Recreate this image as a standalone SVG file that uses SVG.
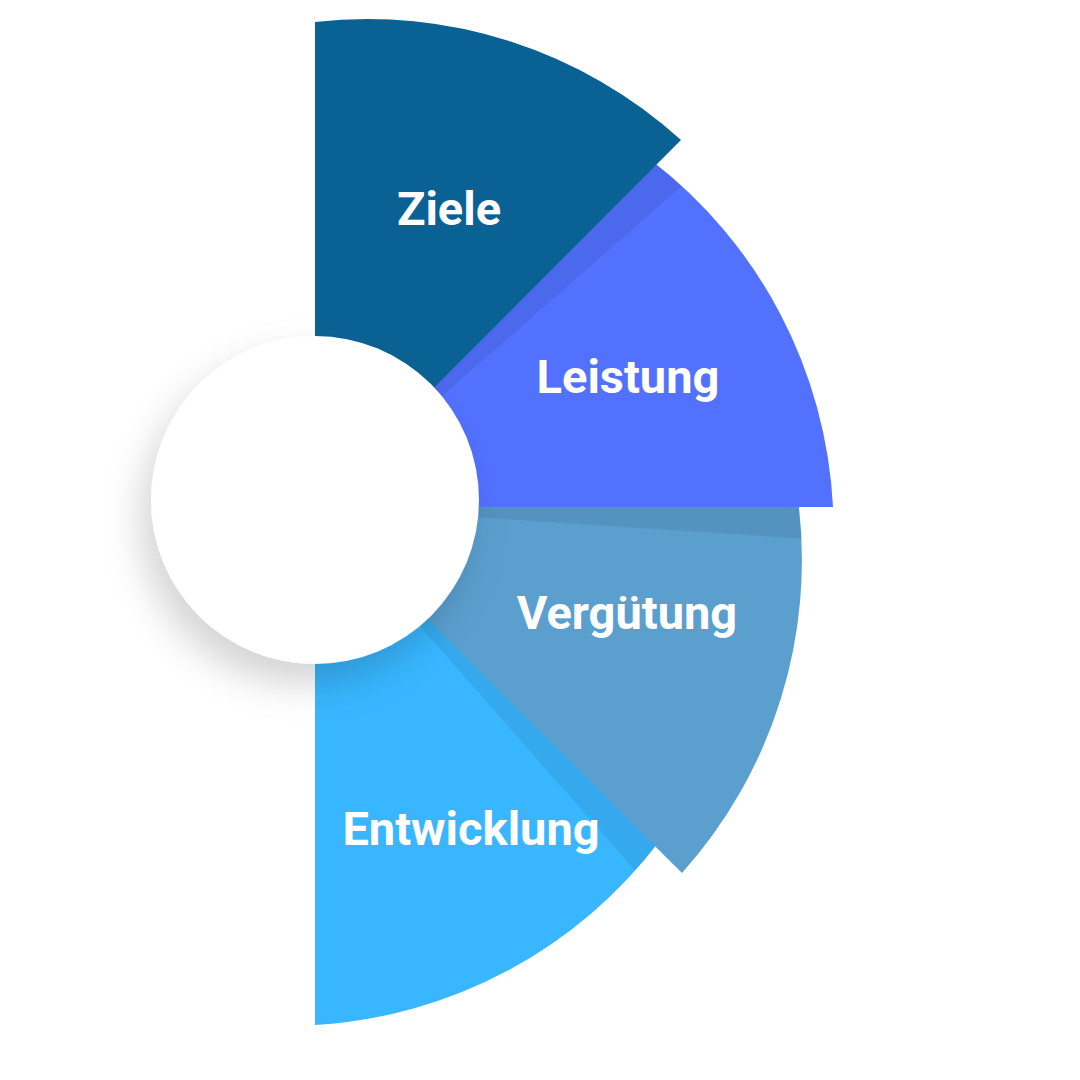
<svg xmlns="http://www.w3.org/2000/svg" width="1080" height="1080" viewBox="0 0 1080 1080">
<defs>
<style>
.lbl{font-family:Roboto,"Liberation Sans",sans-serif;font-weight:700;font-size:47px;fill:#ffffff;text-anchor:middle}
.sh{fill:#000000;fill-opacity:0.07}
</style>
<path id="pZ" d="M315,507 L315,22 A467,467 0 0 1 681,140 Z"/>
<path id="pL" d="M315,507 L650.4,159.7 A467,467 0 0 1 833,507 Z"/>
<path id="pV" d="M315,507 L797.9,498.6 A469,469 0 0 1 682,873 Z"/>
<path id="pE" d="M315,507 L660.1,840.3 A467,467 0 0 1 315,1025 Z"/>
<path id="sZ" d="M315,507 L315,22 A467,467 0 0 1 681,140 Z"/>
<path id="sL" d="M315,507 L655,167 A467,467 0 0 1 833,507 Z"/>
<path id="sV" d="M315,507 L797,507 A469,469 0 0 1 682,873 Z"/>
<clipPath id="cL"><use href="#pL"/></clipPath>
<clipPath id="cV"><use href="#pV"/></clipPath>
<clipPath id="cE"><use href="#pE"/></clipPath>
<filter id="ds" x="-50%" y="-50%" width="200%" height="200%">
<feDropShadow dx="-10" dy="20" stdDeviation="18" flood-color="#000000" flood-opacity="0.17"/>
</filter>
</defs>
<rect width="1080" height="1080" fill="#ffffff"/>
<g id="entwicklung">
<use href="#pE" fill="#38B6FF"/>
<g clip-path="url(#cE)"><use href="#sV" class="sh" transform="rotate(3.7 315 507)"/></g>
</g>
<g id="verguetung">
<use href="#pV" fill="#5B9FCF"/>
<g clip-path="url(#cV)"><use href="#sL" class="sh" transform="rotate(3.7 315 507)"/></g>
</g>
<g id="leistung">
<use href="#pL" fill="#5271FF"/>
<g clip-path="url(#cL)"><use href="#sZ" class="sh" transform="rotate(3.9 315 507)"/></g>
</g>
<g id="ziele">
<use href="#pZ" fill="#0A6294"/>
</g>
<g id="center">
<circle cx="315" cy="500" r="164" fill="#ffffff" filter="url(#ds)"/>
</g>
<g id="labels">
<text class="lbl" x="449" y="225">Ziele</text>
<text class="lbl" x="628" y="393">Leistung</text>
<text class="lbl" x="627" y="629">Vergütung</text>
<text class="lbl" x="471" y="845">Entwicklung</text>
</g>
<g id="connectors"></g>
</svg>
